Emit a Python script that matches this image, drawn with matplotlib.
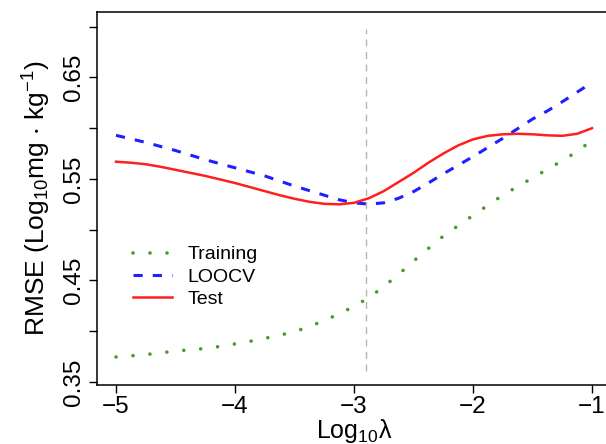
import matplotlib
matplotlib.use("Agg")
import matplotlib.pyplot as plt

plt.rcParams['font.family'] = ['Liberation Sans', 'DejaVu Sans']
plt.rcParams['mathtext.fontset'] = 'custom'
plt.rcParams['mathtext.rm'] = 'Liberation Sans'
plt.rcParams['mathtext.it'] = 'Liberation Sans:italic'
plt.rcParams['mathtext.default'] = 'regular'

# ---- data ----
log_lambda = [-5.0, -4.875, -4.75, -4.625, -4.5, -4.375, -4.25, -4.125, -4.0,
              -3.875, -3.75, -3.625, -3.5, -3.375, -3.25, -3.125, -3.0,
              -2.875, -2.75, -2.625, -2.5, -2.375, -2.25, -2.125, -2.0,
              -1.875, -1.75, -1.625, -1.5, -1.375, -1.25, -1.125, -1.0]
training = [0.3746, 0.3757, 0.377, 0.3787, 0.3805, 0.3817, 0.383, 0.385, 0.3875,
            0.390, 0.393, 0.396, 0.3996, 0.4045, 0.4106, 0.417, 0.4245,
            0.433, 0.444, 0.456, 0.469, 0.4815, 0.4936, 0.504, 0.514,
            0.524, 0.534, 0.5425, 0.551, 0.5595, 0.568, 0.577, 0.588]
loocv = [0.593, 0.5895, 0.586, 0.582, 0.578, 0.5735, 0.569, 0.565, 0.561,
         0.557, 0.553, 0.548, 0.543, 0.5385, 0.534, 0.5295, 0.5265,
         0.5252, 0.5265, 0.531, 0.5375, 0.546, 0.555, 0.5635, 0.572,
         0.581, 0.590, 0.5995, 0.609, 0.617, 0.626, 0.6355, 0.645]
test = [0.567, 0.566, 0.5645, 0.562, 0.559, 0.556, 0.553, 0.5495, 0.546,
        0.542, 0.538, 0.534, 0.5305, 0.5275, 0.5255, 0.525, 0.5265,
        0.531, 0.538, 0.547, 0.556, 0.566, 0.575, 0.583, 0.589,
        0.5925, 0.594, 0.5945, 0.594, 0.593, 0.5925, 0.5945, 0.600]
best_log_lambda = -2.9
x_ticks = [-5, -4, -3, -2, -1]
x_tick_labels = ['\u22125', '\u22124', '\u22123', '\u22122', '\u22121']
y_ticks = [0.35, 0.40, 0.45, 0.50, 0.55, 0.60, 0.65, 0.70]
y_tick_labels = ['0.35', '', '0.45', '', '0.55', '', '0.65', '']
series_names = ['Training', 'LOOCV', 'Test']

# ---- figure ----
W, H = 606, 444
fig = plt.figure(figsize=(W / 100, H / 100), dpi=100)
ax = fig.add_axes([97 / W, 59 / H, (611 - 97) / W, (385 - 12) / H])
ax.set_xlim(-5.16, -0.84)
ax.set_ylim(0.347, 0.7145)

ax.vlines(best_log_lambda, 0.361, 0.698, colors='#b4b4b4', linewidth=1.0,
          linestyles=(0, (5, 4)))

l_train, = ax.plot(log_lambda, training, color='#4a9a2a', linewidth=2.6,
                   linestyle=(0, (0.01, 4.7)), dash_capstyle='round',
                   label=series_names[0])
l_loocv, = ax.plot(log_lambda, loocv, color='#1f1fff', linewidth=2.2,
                   linestyle=(0, (3.0, 3.3)), dash_capstyle='butt',
                   label=series_names[1])
l_test, = ax.plot(log_lambda, test, color='#ff1f1f', linewidth=1.8,
                  linestyle='-', label=series_names[2])

for s in ax.spines.values():
    s.set_linewidth(1.1)
    s.set_color('black')

ax.set_xticks(x_ticks)
ax.set_xticklabels(x_tick_labels)
ax.set_yticks(y_ticks)
ax.set_yticklabels(y_tick_labels, rotation=90, va='center')
ax.tick_params(axis='both', direction='out', length=5.5, width=1.0,
               labelsize=17.5, color='black')
ax.tick_params(axis='x', pad=2.5)
ax.tick_params(axis='y', pad=3)

ax.set_xlabel(r'Log$_{10}$λ', fontsize=18, labelpad=-1)
ax.set_ylabel(r'RMSE (Log$_{10}$mg $\cdot$ kg$^{-1}$)', fontsize=19, labelpad=7)

leg = ax.legend(handles=[l_train, l_loocv, l_test], loc='center left',
                bbox_to_anchor=(133 / W, 1 - 277 / H), bbox_transform=fig.transFigure,
                frameon=False, fontsize=14, handlelength=2.0, handletextpad=0.8,
                labelspacing=0.25, borderpad=0, borderaxespad=0)

fig.savefig('out.png', dpi=100)
